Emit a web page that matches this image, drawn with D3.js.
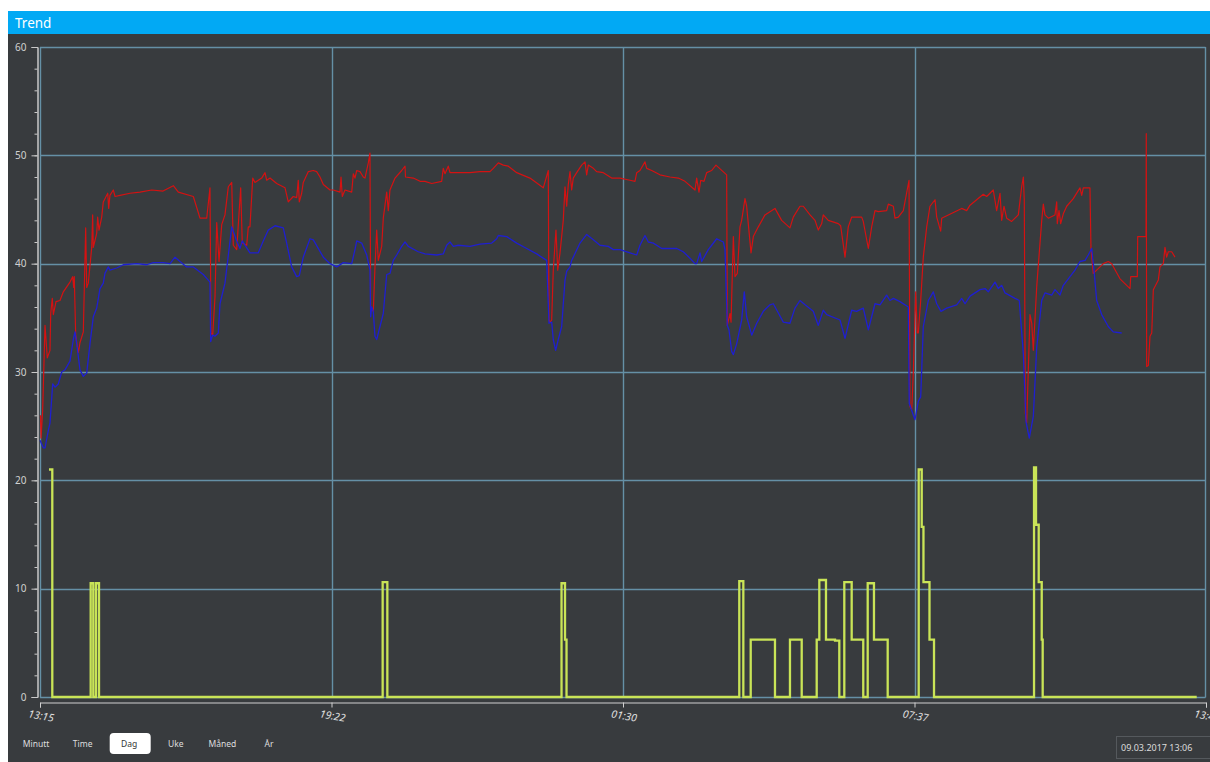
<!DOCTYPE html>
<html>
<head>
<meta charset="utf-8">
<script src="https://cdn.jsdelivr.net/npm/d3@7"></script>
<style>
  body { margin: 0; background: #fff; }
  svg text { font-family: "Noto Sans", "DejaVu Sans", sans-serif; }
</style>
</head>
<body>
<script>
// minutes after 13:15 (08.03.2017), value
var redTemp = [
[0.6,26.0],[1.3,23.9],[3.4,26.5],[6.3,34.3],[9.2,31.3],[12.6,32.0],[13.5,35.4],[15.5,36.8],[16.8,35.3],[20.2,36.5],[25.2,36.6],[29.4,37.4],[37.8,38.3],[41.2,38.8],[42.5,37.8],[43.2,38.8],[45.0,33.4],[48.3,31.8],[50.4,32.7],[54.6,33.7],[57.6,43.3],[58.9,37.8],[60.9,38.2],[65.2,41.5],[66.4,44.5],[67.2,41.5],[71.5,42.8],[72.7,44.3],[74.4,43.1],[77.8,44.3],[79.8,45.7],[85.4,46.5],[86.6,45.1],[88.2,46.3],[92.4,46.8],[94.6,46.2],[100.9,46.3],[113.5,46.5],[126.1,46.6],[140.8,46.8],[155.1,46.7],[168.1,47.2],[174.4,46.6],[193.3,46.2],[201.7,44.2],[210.2,44.2],[214.3,47.0],[215.6,33.6],[217.7,33.4],[220.6,36.9],[222.8,43.8],[225.7,40.2],[229.1,43.6],[233.2,44.5],[237.4,47.1],[241.7,47.5],[243.7,41.7],[248.0,41.3],[253.0,47.0],[255.0,41.9],[260.6,41.7],[262.6,43.4],[264.7,43.4],[268.2,47.9],[271.0,47.5],[279.5,47.9],[283.7,48.4],[285.8,47.7],[290.0,47.9],[298.4,47.4],[308.9,47.0],[313.0,45.7],[319.3,46.2],[323.6,46.1],[325.6,47.7],[326.9,45.7],[329.9,46.5],[331.9,47.5],[338.3,48.5],[344.6,48.6],[348.8,48.5],[353.0,48.0],[357.2,47.3],[365.6,46.8],[369.8,46.8],[378.2,46.6],[379.5,48.0],[381.1,46.2],[384.5,46.8],[393.0,46.6],[395.0,48.3],[397.1,47.9],[399.3,48.6],[403.4,48.5],[407.6,48.0],[409.7,47.9],[413.9,49.3],[416.0,50.2],[416.9,36.0],[420.2,35.6],[422.3,39.7],[424.5,43.1],[426.5,40.3],[430.8,41.6],[432.8,44.2],[437.1,46.6],[439.1,44.9],[441.2,46.8],[447.6,47.9],[456.0,48.6],[460.2,49.0],[460.8,48.0],[470.6,47.9],[479.1,47.6],[485.4,47.6],[493.8,47.4],[506.4,47.6],[508.4,48.8],[510.6,48.3],[514.7,49.0],[516.9,48.4],[525.3,48.4],[542.1,48.4],[554.7,48.5],[567.3,48.5],[571.5,48.8],[577.8,49.3],[584.1,49.1],[590.4,49.0],[601.0,48.4],[617.7,47.9],[634.5,47.0],[640.8,48.6],[641.7,34.8],[643.0,34.6],[645.1,34.8],[647.1,39.4],[650.5,43.1],[652.7,39.4],[655.6,41.0],[659.7,44.0],[661.9,47.1],[664.0,45.3],[666.0,47.3],[668.2,48.5],[670.3,46.8],[672.3,47.9],[676.6,48.4],[682.9,49.1],[687.1,49.4],[689.2,48.2],[691.3,49.1],[697.6,48.8],[701.8,48.5],[710.2,48.4],[720.7,47.9],[731.2,47.9],[743.8,47.7],[750.1,47.6],[752.3,48.4],[756.4,48.6],[762.7,49.4],[764.9,48.8],[771.2,48.6],[781.6,48.2],[794.2,48.0],[804.7,47.9],[813.2,47.6],[825.8,46.8],[827.9,47.9],[830.8,46.6],[833.0,47.7],[837.1,47.6],[840.5,48.4],[846.8,48.6],[852.2,49.1],[865.7,48.2],[866.5,34.3],[869.9,35.4],[871.2,34.6],[874.1,42.5],[876.2,38.8],[879.1,39.1],[882.5,43.4],[884.6,44.0],[888.8,46.0],[890.9,45.3],[896.4,41.0],[899.3,42.5],[905.6,43.4],[914.0,44.5],[920.3,44.8],[926.6,45.1],[935.0,44.0],[945.5,43.3],[949.7,44.3],[958.1,45.3],[962.3,45.3],[970.8,44.5],[977.1,44.0],[981.2,43.1],[985.5,43.7],[987.5,44.5],[993.8,44.0],[1006.4,43.7],[1009.4,43.5],[1014.9,40.6],[1019.0,43.4],[1023.3,44.3],[1035.9,44.3],[1037.9,43.9],[1044.3,41.4],[1048.5,43.4],[1052.7,44.9],[1056.9,44.8],[1067.4,44.9],[1069.5,45.5],[1075.8,45.3],[1077.9,44.2],[1082.1,44.3],[1088.4,44.9],[1095.6,47.7],[1096.8,26.8],[1099.0,26.5],[1101.0,29.9],[1104.0,37.4],[1106.0,33.6],[1107.3,33.6],[1110.3,36.6],[1113.6,40.6],[1117.9,43.4],[1122.0,45.3],[1128.4,45.9],[1130.5,44.3],[1135.5,43.0],[1136.8,44.2],[1145.1,44.5],[1153.6,44.8],[1162.0,45.1],[1168.3,44.9],[1172.5,45.4],[1180.9,45.9],[1189.2,46.4],[1193.5,46.2],[1201.8,46.8],[1206.1,44.9],[1210.3,46.5],[1212.4,44.0],[1215.3,45.3],[1218.7,44.2],[1225.0,43.9],[1233.4,44.5],[1237.6,47.1],[1239.7,48.0],[1240.9,45.9],[1242.2,26.2],[1243.9,25.3],[1246.0,30.2],[1248.1,35.3],[1250.3,34.5],[1252.3,32.0],[1256.6,37.9],[1262.9,44.0],[1264.9,45.5],[1267.0,44.5],[1271.2,44.2],[1279.6,44.5],[1281.8,45.7],[1282.5,43.7],[1284.7,44.9],[1286.8,43.7],[1290.1,44.6],[1294.4,45.3],[1302.7,46.0],[1311.1,47.0],[1313.3,46.3],[1315.3,47.0],[1323.7,47.0],[1325.0,41.4],[1327.9,39.1],[1332.2,39.4],[1340.5,40.0],[1346.8,40.2],[1351.1,40.0],[1361.6,38.6],[1374.2,37.7],[1375.1,38.8],[1383.4,38.8],[1383.9,42.5],[1394.4,42.5],[1394.7,52.0],[1395.2,30.5],[1397.3,30.6],[1399.4,33.3],[1401.6,33.6],[1403.6,37.6],[1405.7,37.9],[1409.9,38.5],[1412.0,39.7],[1416.2,40.0],[1418.3,41.5],[1420.4,40.6],[1422.5,41.1],[1426.8,41.1],[1430.9,40.6]
];

var blueTemp = [
[0,23.7],[4.2,23.0],[6.3,23.0],[10.5,24.6],[12.6,25.3],[16.0,28.9],[18.9,28.6],[23.1,28.9],[27.4,30.0],[31.5,30.2],[37.8,31.0],[42.0,33.0],[44.1,33.7],[46.3,32.6],[50.4,30.2],[54.6,29.6],[58.9,29.9],[63.0,32.6],[67.2,35.1],[71.5,35.9],[75.6,37.7],[79.8,38.2],[81.9,39.1],[86.1,39.7],[88.2,39.4],[96.7,39.6],[105.0,39.9],[121.9,40.0],[134.5,39.9],[142.8,40.1],[155.4,40.1],[163.9,40.0],[170.2,40.6],[176.5,40.2],[184.9,39.7],[193.3,39.7],[205.9,39.0],[214.3,38.3],[215.2,32.8],[217.7,33.4],[220.6,33.3],[224.8,33.6],[226.9,36.3],[233.2,38.2],[241.7,43.4],[248.0,42.1],[252.1,41.4],[255.0,42.1],[264.7,41.0],[275.2,41.0],[281.5,42.1],[287.8,43.1],[296.3,43.5],[306.7,43.3],[311.0,41.9],[317.3,39.7],[323.6,38.8],[326.9,38.9],[331.9,40.6],[340.4,42.3],[344.6,42.2],[357.2,40.6],[365.6,40.0],[374.1,39.7],[382.4,40.1],[393.0,40.0],[397.1,41.3],[399.3,42.1],[405.6,41.9],[411.9,40.8],[416.0,39.4],[416.9,35.1],[418.2,36.0],[420.2,35.6],[422.3,33.3],[424.5,33.0],[428.6,34.2],[432.8,35.4],[437.1,39.0],[441.3,39.1],[445.4,40.3],[449.7,40.8],[456.0,41.6],[460.2,42.0],[464.3,41.6],[476.9,41.1],[485.4,40.9],[500.1,40.8],[508.4,40.9],[512.7,41.7],[516.9,42.0],[521.1,41.6],[527.4,41.7],[542.1,41.6],[554.7,41.8],[569.5,41.9],[575.8,42.3],[577.8,42.6],[588.4,42.5],[601.0,41.9],[613.6,41.4],[626.2,40.9],[638.8,40.3],[641.7,34.5],[645.1,34.6],[647.1,33.0],[650.1,32.0],[653.4,33.0],[657.7,34.2],[661.9,38.5],[664.0,39.3],[668.2,39.7],[670.3,40.3],[680.8,41.9],[689.2,42.7],[697.6,42.2],[706.0,41.7],[716.5,41.6],[722.8,41.3],[731.2,41.3],[743.8,41.0],[752.3,40.8],[756.4,41.7],[762.7,42.6],[766.9,42.0],[773.2,41.9],[783.8,41.4],[802.7,41.4],[811.0,41.1],[819.5,40.5],[825.8,40.0],[827.9,40.0],[832.1,41.0],[834.2,40.2],[842.5,41.3],[846.8,41.7],[853.1,42.3],[861.5,42.0],[863.6,41.3],[866.5,34.3],[868.6,33.9],[872.0,31.9],[874.1,31.6],[878.3,32.6],[884.6,34.8],[887.9,37.4],[890.9,35.1],[897.3,33.4],[903.6,34.5],[911.9,35.6],[920.3,36.2],[924.5,36.3],[937.1,34.6],[945.5,34.5],[951.8,35.9],[958.1,36.6],[964.5,36.2],[974.9,35.6],[981.2,34.3],[987.5,35.7],[991.8,35.3],[1008.6,34.8],[1014.9,33.1],[1023.3,35.7],[1029.6,35.6],[1037.9,35.9],[1044.3,33.9],[1052.7,36.3],[1059.0,36.2],[1067.4,37.1],[1071.6,36.6],[1075.8,36.8],[1084.2,36.5],[1094.7,36.0],[1095.9,27.1],[1103.1,25.6],[1107.3,27.3],[1110.3,27.7],[1113.6,34.2],[1119.9,36.6],[1126.2,37.4],[1130.5,36.3],[1135.9,35.6],[1143.1,35.9],[1155.7,36.2],[1162.0,36.8],[1166.2,36.3],[1172.5,37.0],[1185.1,37.6],[1191.4,37.7],[1195.5,37.4],[1204.0,38.3],[1208.2,37.7],[1212.4,38.0],[1216.6,37.3],[1229.2,36.8],[1234.6,36.6],[1239.7,31.7],[1243.1,25.4],[1247.2,23.9],[1252.3,25.9],[1256.6,32.3],[1262.9,36.6],[1267.0,37.3],[1275.5,37.1],[1279.6,37.6],[1285.9,37.1],[1290.1,38.0],[1296.4,38.6],[1304.8,39.4],[1311.1,40.2],[1317.5,40.3],[1321.6,40.8],[1325.9,41.4],[1328.8,39.4],[1332.2,36.6],[1338.5,35.3],[1346.8,34.2],[1353.1,33.7],[1363.7,33.6]
];

// step series: value holds until next point
var greenLevel = [
[11.3,21.0],[15.5,0],[63.9,10.5],[67.2,0],[70.6,10.5],[74.4,0],[432.0,10.6],[437.9,0],[657.5,10.5],[661.9,5.3],[663.8,0],[881.6,10.7],[886.7,0],[896.0,5.3],[926.6,0],[945.5,5.3],[960.3,0],[979.2,5.3],[982.5,10.8],[990.9,5.3],[1002.3,5.2],[1007.7,0],[1014.0,10.6],[1023.3,5.3],[1037.9,0],[1043.5,10.5],[1051.4,5.3],[1068.7,0],[1107.8,21.0],[1111.6,15.7],[1113.8,10.6],[1121.4,5.3],[1127.1,0],[1253.2,21.2],[1255.7,15.9],[1259.1,10.6],[1262.9,5.3],[1264.1,0],[1458.3,0]
];

var yTicks = [0, 10, 20, 30, 40, 50, 60];
var xTickMinutes = [0, 367.5, 735, 1102.5, 1470];
var periodButtons = ["Minutt", "Time", "Dag", "Uke", "Måned", "År"];
var selectedButton = "Dag";
var stampText = "09.03.2017 13:06";
var titleText = "Trend";

var width = 1210, height = 762;
var t0 = new Date(2017, 2, 8, 13, 15);
function toTime(m) { return new Date(+t0 + m * 60000); }

var svg = d3.select("body").append("svg")
  .attr("width", width)
  .attr("height", height);

// panel + header
svg.append("rect").attr("x", 8).attr("y", 34).attr("width", width - 8).attr("height", height - 34).attr("fill", "#383b3e");
svg.append("rect").attr("x", 8).attr("y", 11).attr("width", width - 8).attr("height", 23).attr("fill", "#02a9f4");
svg.append("text").attr("x", 15).attr("y", 28).attr("fill", "#fff").attr("font-size", 13.5).text(titleText);

var x = d3.scaleTime().domain([toTime(0), toTime(1470)]).range([40, 1206]);
var y = d3.scaleLinear().domain([0, 60]).range([697, 47]);

// grid
var grid = svg.append("g").attr("stroke", "#6590a6").attr("stroke-width", 1.4);
grid.selectAll("line.h").data(yTicks).enter().append("line")
  .attr("x1", 40).attr("x2", 1205.5)
  .attr("y1", function(d) { return Math.round(y(d)) + 0.5; })
  .attr("y2", function(d) { return Math.round(y(d)) + 0.5; });
grid.selectAll("line.v").data(xTickMinutes.slice(0, 4).concat([1468.8])).enter().append("line")
  .attr("x1", function(d) { return Math.round(x(toTime(d))) + 0.5; })
  .attr("x2", function(d) { return Math.round(x(toTime(d))) + 0.5; })
  .attr("y1", 47).attr("y2", 697.5);

// y axis
var yAxisMinor = d3.axisLeft(y).tickValues(d3.range(0, 61, 2)).tickSize(3).tickFormat("");
var yAxis = d3.axisLeft(y).tickValues(yTicks).tickSize(6).tickPadding(5);
var gyMinor = svg.append("g").attr("transform", "translate(37.5,0)").call(yAxisMinor);
var gy = svg.append("g").attr("transform", "translate(37.5,0)").call(yAxis);
[gy, gyMinor].forEach(function(g) {
  g.selectAll("path, line").attr("stroke", "#c9c9c9");
  g.selectAll("text").attr("fill", "#d0d0d0").attr("font-size", 10).attr("font-family", "Noto Sans");
});

// x axis
var xAxis = d3.axisBottom(x).tickValues(xTickMinutes.map(toTime)).tickSize(5).tickFormat(d3.timeFormat("%H:%M"));
var gx = svg.append("g").attr("transform", "translate(0,702.5)").call(xAxis);
gx.selectAll("path, line").attr("stroke", "#d0d0d0");
gx.selectAll("text")
  .attr("fill", "#e0e0e0").attr("font-size", 10.5).attr("font-style", "italic").attr("font-family", "Noto Sans")
  .attr("y", 0).attr("dy", 0)
  .attr("transform", "translate(0,17) rotate(10)");

// series
var line = d3.line()
  .x(function(d) { return x(toTime(d[0])); })
  .y(function(d) { return y(d[1]); });

svg.append("path").datum(redTemp).attr("d", line)
  .attr("fill", "none").attr("stroke", "#d41212").attr("stroke-width", 1.2).attr("stroke-linejoin", "round");
svg.append("path").datum(blueTemp).attr("d", line)
  .attr("fill", "none").attr("stroke", "#1f1fd0").attr("stroke-width", 1.3).attr("stroke-linejoin", "round");
svg.append("path").datum(greenLevel).attr("d", line.curve(d3.curveStepAfter))
  .attr("fill", "none").attr("stroke", "#c9e457").attr("stroke-width", 2.3);

// period buttons
var btnX = d3.scalePoint().domain(periodButtons).range([36, 269]);
var btn = svg.append("g").selectAll("g").data(periodButtons).enter().append("g")
  .attr("transform", function(d) { return "translate(" + btnX(d) + ",744)"; });
btn.filter(function(d) { return d === selectedButton; }).append("rect")
  .attr("x", -19.5).attr("y", -11).attr("width", 41).attr("height", 21).attr("rx", 4).attr("fill", "#fff");
btn.append("text")
  .attr("text-anchor", "middle").attr("dy", "0.35em").attr("font-size", 8.5)
  .attr("fill", function(d) { return d === selectedButton ? "#333" : "#dedede"; })
  .text(function(d) { return d; });

// time stamp box
svg.append("rect").attr("x", 1116.5).attr("y", 736.5).attr("width", 100).attr("height", 22)
  .attr("fill", "none").attr("stroke", "#55595d");
svg.append("text").attr("x", 1121).attr("y", 751).attr("font-size", 9).attr("fill", "#dcdcdc").text(stampText);
</script>
</body>
</html>
